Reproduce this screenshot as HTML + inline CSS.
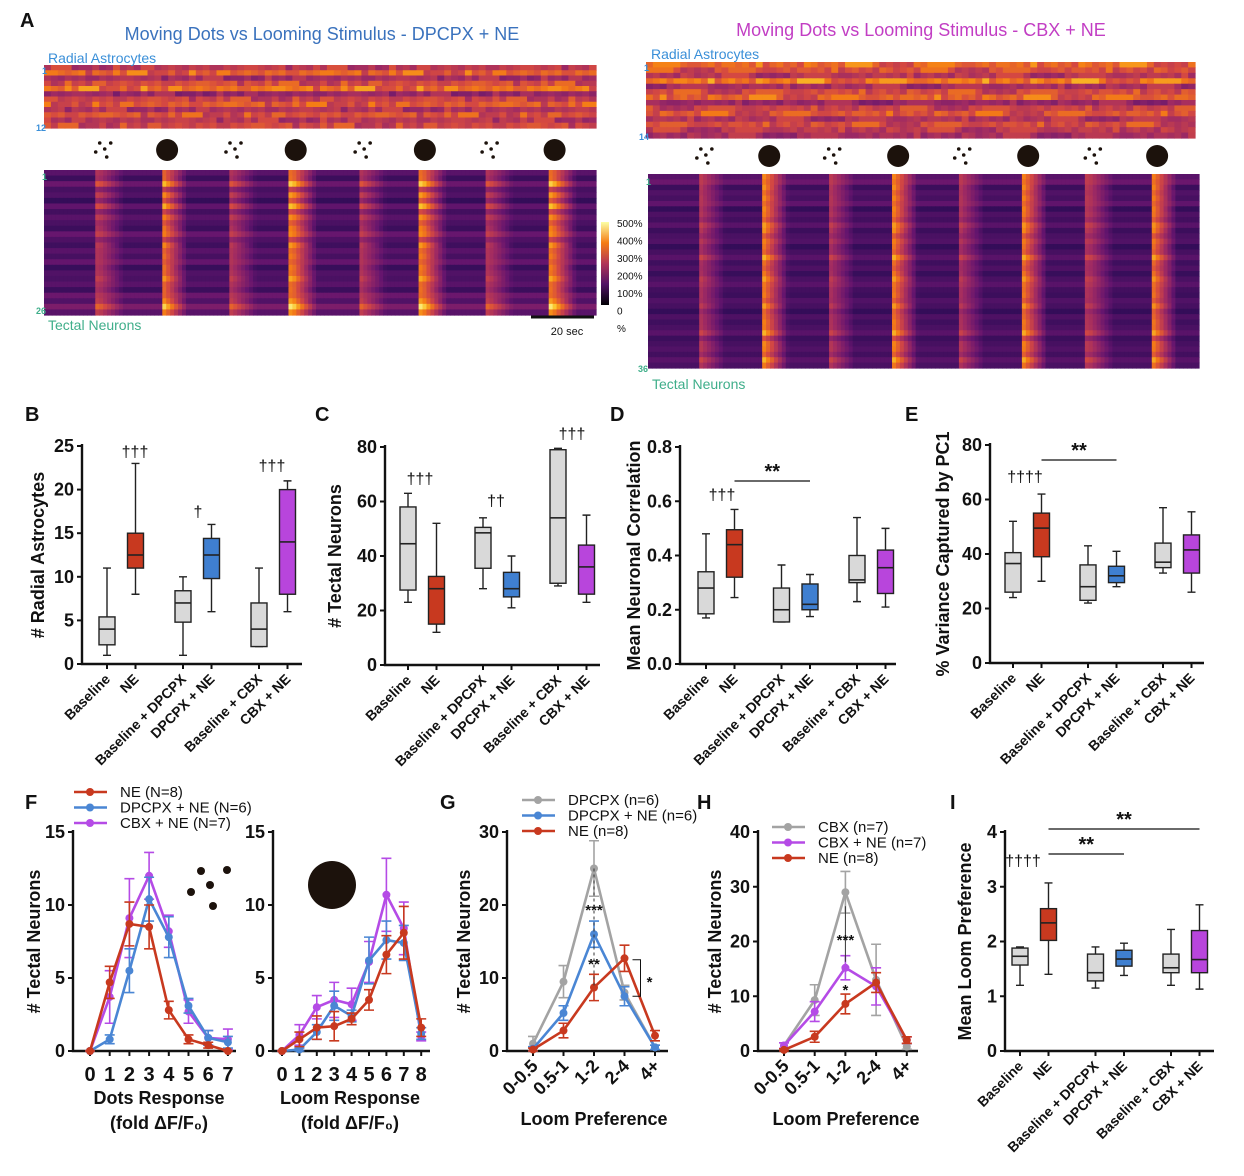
<!DOCTYPE html>
<html><head><meta charset="utf-8">
<style>
html,body{margin:0;padding:0;background:#fff;}
svg{display:block;font-family:"Liberation Sans",Arial,sans-serif;}
</style></head>
<body>
<svg id="fig" width="1244" height="1176" viewBox="0 0 1244 1176" xmlns="http://www.w3.org/2000/svg"></svg>
<script>
// ---------- DATA ----------
const boxCategories = ["Baseline","NE","Baseline + DPCPX","DPCPX + NE","Baseline + CBX","CBX + NE"];
const boxColors = ["#d9d9d9","#c8391f","#d9d9d9","#3f7fd0","#d9d9d9","#b845dc"];
const B_low=[1,8,1,6,2,6], B_q1=[2.2,11,4.8,9.8,2,8], B_med=[4,12.5,7,12.5,4,14], B_q3=[5.4,15,8.4,14.4,7,20], B_high=[11,23,10,16,11,21];
const B_ticks=[0,5,10,15,20,25];
const C_low=[23,12,28,21,29,23], C_q1=[27.5,15,35.5,25,30,26], C_med=[44.5,28,48.5,28,54,36], C_q3=[58,32.5,50.5,34,79,44], C_high=[63,52,54,40,79.5,55];
const C_ticks=[0,20,40,60,80];
const D_low=[0.17,0.245,0.155,0.175,0.23,0.21], D_q1=[0.185,0.32,0.155,0.2,0.3,0.26], D_med=[0.28,0.44,0.2,0.22,0.31,0.355], D_q3=[0.34,0.495,0.28,0.295,0.4,0.42], D_high=[0.48,0.57,0.365,0.33,0.54,0.5];
const D_ticks=[0,0.2,0.4,0.6,0.8];
const E_low=[24,30,22,28,33,26], E_q1=[26,39,23,29.5,35,33], E_med=[36.5,49.5,28,32,37,41.5], E_q3=[40.5,55,36,35.5,44,47], E_high=[52,62,43,41,57,55.5];
const E_ticks=[0,20,40,60,80];
const I_low=[1.2,1.4,1.15,1.38,1.2,1.13], I_q1=[1.57,2.02,1.28,1.55,1.43,1.43], I_med=[1.73,2.34,1.43,1.68,1.52,1.67], I_q3=[1.88,2.6,1.77,1.84,1.77,2.2], I_high=[1.9,3.07,1.9,1.97,2.22,2.67];
const I_ticks=[0,1,2,3,4];
const dotsBins=[0,1,2,3,4,5,6,7];
const dots_NE=[0,4.7,8.7,8.5,2.8,0.8,0.4,0], dots_NE_err=[0,1.1,1.5,1.5,0.6,0.3,0.2,0];
const dots_DP=[0,0.8,5.5,10.4,7.8,3.1,0.9,0.6], dots_DP_err=[0,0.3,1.5,1.5,1.4,0.5,0.5,0.4];
const dots_CBX=[0,3.7,9.1,12,8.2,2.7,0.9,0.8], dots_CBX_err=[0,1.8,2.7,1.6,1.1,0.8,0.5,0.7];
const loomBins=[0,1,2,3,4,5,6,7,8];
const loom_NE=[0,0.8,1.6,1.7,2.2,3.5,6.6,8.1,1.6], loom_NE_err=[0,0.5,0.8,1,0.4,0.7,1.3,1.8,0.6];
const loom_DP=[0,0.1,1.3,3.1,2.4,6.2,7.6,7.4,1.2], loom_DP_err=[0,0.1,0.5,1,0.4,1.6,1.3,1.2,0.4];
const loom_CBX=[0,1.1,3.0,3.5,3.2,6.1,10.7,8.4,1.0], loom_CBX_err=[0,0.7,0.8,1.2,1.1,1.4,2.5,1.8,0.3];
const F_ticks=[0,5,10,15];
const prefCats=["0-0.5","0.5-1","1-2","2-4","4+"];
const G_DPCPX=[1,9.5,25,8,0.5], G_DPCPX_err=[1,2.2,3.8,1,0.3];
const G_DPNE=[0.3,5.2,16,7.5,0.5], G_DPNE_err=[0.3,1,1.8,1.3,0.3];
const G_NE=[0.2,2.8,8.7,12.7,2.1], G_NE_err=[0.2,1,1.8,1.8,0.7];
const G_ticks=[0,10,20,30];
const H_CBX=[1,9.3,29,13,0.8], H_CBX_err=[0.5,2.8,3.8,6.5,0.5];
const H_CBXNE=[1,7.2,15.2,11.8,2], H_CBXNE_err=[0.5,1.8,2.2,3.4,0.6];
const H_NE=[0.2,2.6,8.6,12.5,2], H_NE_err=[0.2,1,1.8,1.8,0.6];
const H_ticks=[0,10,20,30,40];
const stimTypes=["dots","loom","dots","loom","dots","loom","dots","loom"];
const stimLeft=[0.1,0.215,0.34,0.45,0.575,0.685,0.805,0.92];
const stimRight=[0.095,0.21,0.33,0.445,0.565,0.68,0.8,0.915];
const astroRowsL=[0.62,0.78,0.55,0.7,0.82,0.5,0.66,0.75,0.58,0.72,0.6,0.68];
const astroColsL=[0.8,0.9,0.75,0.95,0.85,0.7,0.9,1,0.8,0.85,0.95,0.75,0.9,0.85,1,0.8,0.7,0.9,0.95,0.85,0.8,1,0.9,0.75,0.85,0.95,0.8,0.9,0.7,0.85,1,0.9,0.8,0.95,0.85,0.75,0.9,0.8,0.95,0.85];
const astroRowsR=[0.8,0.72,0.6,0.85,0.55,0.7,0.78,0.5,0.66,0.74,0.58,0.7,0.62,0.55];
const astroColsR=[0.85,0.95,0.8,1,0.9,0.75,0.85,0.95,0.9,0.8,1,0.85,0.7,0.9,0.95,0.8,0.85,1,0.9,0.75,0.8,0.95,0.85,0.9,1,0.8,0.7,0.85,0.95,0.9,0.8,0.85,1,0.9,0.75,0.85,0.8,0.9,0.7,0.75];
const neuRowsBaseL=[0.3,0.22,0.35,0.25,0.28,0.2,0.32,0.24,0.3,0.26,0.22,0.34,0.27,0.23,0.3,0.25,0.33,0.21,0.28,0.26,0.3,0.22,0.35,0.28,0.4,0.3];
const neuRowsGainL=[0.5,0.6,0.7,0.4,0.65,0.55,0.7,0.45,0.6,0.5,0.65,0.55,0.4,0.7,0.5,0.6,0.45,0.65,0.55,0.7,0.5,0.6,0.45,0.65,0.7,0.6];
const neuRowsBaseR=[0.3,0.35,0.22,0.28,0.25,0.32,0.2,0.27,0.24,0.3,0.22,0.26,0.28,0.2,0.25,0.3,0.23,0.27,0.21,0.26,0.3,0.24,0.22,0.28,0.25,0.2,0.27,0.23,0.26,0.3,0.22,0.25,0.28,0.24,0.3,0.26];
const neuRowsGainR=[0.6,0.5,0.7,0.55,0.65,0.5,0.7,0.6,0.55,0.65,0.7,0.5,0.6,0.65,0.55,0.7,0.6,0.5,0.65,0.7,0.55,0.6,0.65,0.5,0.7,0.6,0.55,0.65,0.6,0.7,0.5,0.65,0.6,0.55,0.7,0.6];

// ---------- HELPERS ----------
const NS="http://www.w3.org/2000/svg";
const svg=document.getElementById('fig');
function el(tag,attrs,parent){const e=document.createElementNS(NS,tag);for(const k in attrs)e.setAttribute(k,attrs[k]);(parent||svg).appendChild(e);return e;}
function tx(x,y,s,size,opts,parent){opts=opts||{};const t=el('text',{x:x,y:y,'font-size':size,'font-weight':opts.w||'bold',fill:opts.fill||'#111','text-anchor':opts.a||'middle'},parent);if(opts.tr)t.setAttribute('transform',opts.tr);t.textContent=s;return t;}
function inferno(t){t=Math.max(0,Math.min(1,t));const st=[[0,0,0,4],[0.15,40,11,84],[0.3,101,21,110],[0.45,159,42,99],[0.6,212,72,66],[0.75,245,125,21],[0.88,250,193,39],[1,252,255,164]];for(let i=1;i<st.length;i++){if(t<=st[i][0]){const a=st[i-1],b=st[i],f=(t-a[0])/(b[0]-a[0]);return 'rgb('+Math.round(a[1]+f*(b[1]-a[1]))+','+Math.round(a[2]+f*(b[2]-a[2]))+','+Math.round(a[3]+f*(b[3]-a[3]))+')';}}return '#fcffa4';}

// ---------- PANEL A ----------
function astroHeat(x,y,w,h,rows,cols,name){
  const g=el('g',{});
  
  
  const nc=cols.length*2;
  const rh=h/rows.length,cw=w/nc;
  rows.forEach((r,i)=>{for(let j=0;j<nc;j++){const c=cols[(j*7+i*3)%cols.length];
    const cell=el('rect',{x:x+j*cw,y:y+i*rh,width:cw+0.6,height:rh+0.6,fill:inferno(r*c)},g);
    
    
  }});
}
function neuronHeat(x,y,w,h,base,gain,stims,name){
  const g=el('g',{});
  
  
  const nc=140,rh=h/base.length,cw=w/nc;
  base.forEach((b,i)=>{for(let j=0;j<nc;j++){
    const f=(j+0.5)/nc;let v=b*0.9;
    stims.forEach((s,k)=>{const d=f-s;if(d>-0.004&&d<0.045){v+=gain[i]*(stimTypes[k]==='loom'?0.85:0.45)*(1-Math.max(0,d)/0.045);}});
    const cell=el('rect',{x:x+j*cw,y:y+i*rh,width:cw+0.6,height:rh+0.6,fill:inferno(v)},g);
    
    
  }});
}
function stimRow(x0,w,y,stims){
  stims.forEach((s,k)=>{const cx=x0+s*w;
    if(stimTypes[k]==='loom'){const c=el('circle',{cx:cx,cy:y,r:11,fill:'#1c120c'});
      
      }
    else{const g=el('g',{fill:'#1c120c'});
      
      
      [[-5,-7],[6,-7],[0,-1],[-9,2],[2,7]].forEach(p=>el('circle',{cx:cx+p[0],cy:y+p[1],r:1.8},g));}
  });
}
let t;
t=tx(20,27,'A',20,{a:'start'});
t=tx(322,40,'Moving Dots vs Looming Stimulus - DPCPX + NE',18,{w:'normal',fill:'#3a72bd'});
t=tx(921,36,'Moving Dots vs Looming Stimulus - CBX + NE',18,{w:'normal',fill:'#c23ec4'});
astroHeat(44,65,552,63,astroRowsL,astroColsL,'astrocyte-heatmap-left');
neuronHeat(44,170,552,145,neuRowsBaseL,neuRowsGainL,stimLeft,'neuron-heatmap-left');
astroHeat(646,62,549,76,astroRowsR,astroColsR,'astrocyte-heatmap-right');
neuronHeat(648,174,551,194,neuRowsBaseR,neuRowsGainR,stimRight,'neuron-heatmap-right');
stimRow(44,552,150,[0.11,0.223,0.346,0.456,0.58,0.69,0.81,0.925]);
stimRow(648,551,156,[0.105,0.22,0.337,0.454,0.573,0.69,0.81,0.924]);
t=tx(48,63,'Radial Astrocytes',14,{w:'normal',fill:'#3a8fd8',a:'start'});
t=tx(651,59,'Radial Astrocytes',14,{w:'normal',fill:'#3a8fd8',a:'start'});
t=tx(48,330,'Tectal Neurons',14,{w:'normal',fill:'#3fae8a',a:'start'});
t=tx(652,389,'Tectal Neurons',14,{w:'normal',fill:'#3fae8a',a:'start'});
[[42,74,'1','#3a8fd8'],[36,131,'12','#3a8fd8'],[42,180,'1','#3fae8a'],[36,314,'26','#3fae8a'],[644,71,'1','#3a8fd8'],[639,140,'14','#3a8fd8'],[646,185,'1','#3fae8a'],[638,372,'36','#3fae8a']].forEach(r=>{
  const n=tx(r[0],r[1],r[2],9,{a:'start',fill:r[3]});});
const defs=el('defs',{});
const lg=el('linearGradient',{id:'cb',x1:0,y1:1,x2:0,y2:0},defs);
[0,0.25,0.5,0.75,1].forEach(s=>el('stop',{offset:s,'stop-color':inferno(s)},lg));
t=el('rect',{x:601,y:222,width:8,height:83,fill:'url(#cb)'});
['500%','400%','300%','200%','100%','0','%'].forEach((s,i)=>{const l=tx(617,227+i*17.5,s,10,{w:'normal',a:'start'});});
t=el('line',{x1:531,y1:317,x2:594,y2:317,stroke:'#111','stroke-width':3});
t=tx(567,335,'20 sec',11,{w:'normal'});

// ---------- BOX PANELS ----------
function boxPanel(p){
  const g=el('g',{});
  
  
  const ys=v=>p.y0-(v/p.max)*(p.y0-p.yTop);
  const xs=i=>p.start+Math.floor(i/2)*p.step+(i%2)*28.5;
  const ax=el('path',{d:`M${p.ax},${p.yTop-2} V${p.y0} H${p.xEnd}`,fill:'none',stroke:'#111','stroke-width':2.4},g);
  
  
  p.ticks.forEach(v=>{el('line',{x1:p.ax-5,x2:p.ax,y1:ys(v),y2:ys(v),stroke:'#111','stroke-width':2},g);
    const l=tx(p.ax-8,ys(v)+6,p.fmt?p.fmt(v):String(v),18,{a:'end'},g);
    
    });
  boxCategories.forEach((c,i)=>{const x=xs(i);
    el('line',{x1:x,x2:x,y1:p.y0,y2:p.y0+5,stroke:'#111','stroke-width':2},g);
    const l=tx(x+4,p.y0+16,c,14,{a:'end',tr:`rotate(-45 ${x+4} ${p.y0+16})`},g);
    
    
    const bw=8;
    const wl=el('path',{d:`M${x},${ys(p.low[i])}V${ys(p.q1[i])}M${x},${ys(p.q3[i])}V${ys(p.high[i])}M${x-4},${ys(p.low[i])}h8M${x-4},${ys(p.high[i])}h8`,stroke:'#222','stroke-width':1.4,fill:'none'},g);
    
    
    const b=el('rect',{x:x-bw,y:ys(p.q3[i]),width:bw*2,height:ys(p.q1[i])-ys(p.q3[i]),fill:boxColors[i],stroke:'#222','stroke-width':1.4},g);
    
    
    const m=el('line',{x1:x-bw,x2:x+bw,y1:ys(p.med[i]),y2:ys(p.med[i]),stroke:'#222','stroke-width':1.6},g);
    
    
  });
  const yt=tx(0,0,p.title,18,{tr:`translate(${p.titleX},${(p.y0+p.yTop)/2}) rotate(-90)`},g);
  
  
  (p.ann||[]).forEach(a=>{const l=tx(a[0],a[1],a[2],16,{w:'normal'},g);
    
    });
  (p.brackets||[]).forEach(b=>{const l=el('line',{x1:xs(b[0]),x2:xs(b[1]),y1:b[2],y2:b[2],stroke:'#111','stroke-width':1.3},g);
    
    
    const s=tx((xs(b[0])+xs(b[1]))/2,b[2]-3,'**',20,{},g);
    
    });
}
[['B',25],['C',315],['D',610],['E',905]].forEach(l=>{const e=tx(l[1],421,l[0],20,{a:'start'});});
[['F',25],['G',440],['H',697],['I',950]].forEach(l=>{const e=tx(l[1],809,l[0],20,{a:'start'});});

boxPanel({name:'panel-b-radial-astrocytes',ax:82,xEnd:302,y0:664,yTop:446,max:25,ticks:B_ticks,start:107,step:76,low:B_low,q1:B_q1,med:B_med,q3:B_q3,high:B_high,title:'# Radial Astrocytes',titleX:44,
  ann:[[135,457,'†††'],[198,517,'†'],[272,471,'†††']]});
boxPanel({name:'panel-c-tectal-neurons',ax:385,xEnd:600,y0:665,yTop:447,max:80,ticks:C_ticks,start:408,step:75,low:C_low,q1:C_q1,med:C_med,q3:C_q3,high:C_high,title:'# Tectal Neurons',titleX:341,
  ann:[[420,484,'†††'],[496,506,'††'],[572,439,'†††']]});
boxPanel({name:'panel-d-neuronal-correlation',ax:680,xEnd:896,y0:664,yTop:447,max:0.8,ticks:D_ticks,fmt:v=>v.toFixed(1),start:706,step:75.5,low:D_low,q1:D_q1,med:D_med,q3:D_q3,high:D_high,title:'Mean Neuronal Correlation',titleX:640,
  ann:[[722,500,'†††']],brackets:[[1,3,481]]});
boxPanel({name:'panel-e-variance-pc1',ax:990,xEnd:1204,y0:663,yTop:445,max:80,ticks:E_ticks,start:1013,step:75,low:E_low,q1:E_q1,med:E_med,q3:E_q3,high:E_high,title:'% Variance Captured by PC1',titleX:949,
  ann:[[1025,482,'††††']],brackets:[[1,3,460]]});
boxPanel({name:'panel-i-loom-preference',ax:1005,xEnd:1214,y0:1051,yTop:832,max:4,ticks:I_ticks,start:1020,step:75.5,low:I_low,q1:I_q1,med:I_med,q3:I_q3,high:I_high,title:'Mean Loom Preference',titleX:971,
  ann:[[1023,866,'††††']],brackets:[[1,3,854],[1,5,829]]});

// ---------- LINE CHARTS ----------
function lineChart(p){
  const g=el('g',{});
  
  
  const ys=v=>p.y0-(v/p.max)*(p.y0-p.yTop);
  const xs=i=>p.x0+i*p.dx;
  const ax=el('path',{d:`M${p.ax},${p.yTop-2} V${p.y0} H${p.xEnd}`,fill:'none',stroke:'#111','stroke-width':2.4},g);
  
  
  p.ticks.forEach(v=>{el('line',{x1:p.ax-5,x2:p.ax,y1:ys(v),y2:ys(v),stroke:'#111','stroke-width':2},g);
    const l=tx(p.ax-8,ys(v)+6,String(v),18,{a:'end'},g);
    
    });
  p.cats.forEach((c,i)=>{el('line',{x1:xs(i),x2:xs(i),y1:p.y0,y2:p.y0+5,stroke:'#111','stroke-width':2},g);
    let l;
    if(p.rot) l=tx(xs(i)+6,p.y0+16,c,18,{a:'end',tr:`rotate(-45 ${xs(i)+6} ${p.y0+16})`},g);
    else l=tx(xs(i),p.y0+30,c,20,{},g);
    
    });
  p.series.forEach(s=>{
    const sg=el('g',{},g);
    
    
    s.v.forEach((v,i)=>{const e=s.e[i];
      const eb=el('path',{d:`M${xs(i)},${ys(v-e)}V${ys(v+e)}M${xs(i)-5},${ys(v-e)}h10M${xs(i)-5},${ys(v+e)}h10`,stroke:s.c,'stroke-width':1.6,fill:'none'},sg);
      
      });
    const ln=el('polyline',{points:s.v.map((v,i)=>xs(i)+','+ys(v)).join(' '),fill:'none',stroke:s.c,'stroke-width':2.6},sg);
    
    
    s.v.forEach((v,i)=>{const pt=el('circle',{cx:xs(i),cy:ys(v),r:4,fill:s.c},sg);
      
      });
  });
  if(p.title){const yt=tx(0,0,p.title,18,{tr:`translate(${p.titleX},${(p.y0+p.yTop)/2}) rotate(-90)`},g);
    
    }
  (p.xtitle||[]).forEach(xt=>{const l=tx(xt[0],xt[1],xt[2],18,{},g);
    
    });
  (p.legend||[]).forEach((L,i)=>{const ly=p.legY+i*p.legDy;
    const lg=el('g',{},g);
    
    
    el('line',{x1:p.legX,x2:p.legX+33,y1:ly,y2:ly,stroke:L[1],'stroke-width':2.6},lg);
    el('circle',{cx:p.legX+16,cy:ly,r:4,fill:L[1]},lg);
    tx(p.legX+46,ly+5,L[0],15,{w:'normal',a:'start'},lg);});
  return {xs,ys,g};
}
const cNE='#c8391f',cDP='#4a86d4',cCBX='#b54be6',cGray='#a3a3a3';
lineChart({name:'panel-f-dots-response',ax:73,xEnd:236,x0:90,dx:19.7,y0:1051,yTop:832,max:15,ticks:F_ticks,cats:dotsBins.map(String),
  series:[{label:'cbx-ne',v:dots_CBX,e:dots_CBX_err,c:cCBX},{label:'dpcpx-ne',v:dots_DP,e:dots_DP_err,c:cDP},{label:'ne',v:dots_NE,e:dots_NE_err,c:cNE}],
  title:'# Tectal Neurons',titleX:40,xtitle:[[159,1104,'Dots Response'],[159,1129,'(fold ΔF/F₀)']],
  legend:[['NE (N=8)',cNE],['DPCPX + NE (N=6)',cDP],['CBX + NE (N=7)',cCBX]],legX:74,legY:792,legDy:15.5});
lineChart({name:'panel-f-loom-response',ax:273,xEnd:430,x0:282,dx:17.4,y0:1051,yTop:832,max:15,ticks:F_ticks,cats:loomBins.map(String),
  series:[{label:'cbx-ne',v:loom_CBX,e:loom_CBX_err,c:cCBX},{label:'dpcpx-ne',v:loom_DP,e:loom_DP_err,c:cDP},{label:'ne',v:loom_NE,e:loom_NE_err,c:cNE}],
  xtitle:[[350,1104,'Loom Response'],[350,1129,'(fold ΔF/F₀)']]});
const fdots=el('g',{fill:'#1c120c'});


[[201,871],[227,870],[210,885],[191,892],[213,906]].forEach(p=>el('circle',{cx:p[0],cy:p[1],r:4},fdots));
t=el('circle',{cx:332,cy:885,r:24,fill:'#1c120c'});

const G=lineChart({name:'panel-g-dpcpx-loom-preference',ax:507,xEnd:668,x0:533,dx:30.5,y0:1051,yTop:832,max:30,ticks:G_ticks,cats:prefCats,rot:true,
  series:[{label:'dpcpx',v:G_DPCPX,e:G_DPCPX_err,c:cGray},{label:'dpcpx-ne',v:G_DPNE,e:G_DPNE_err,c:cDP},{label:'ne',v:G_NE,e:G_NE_err,c:cNE}],
  title:'# Tectal Neurons',titleX:470,xtitle:[[594,1125,'Loom Preference']],
  legend:[['DPCPX (n=6)',cGray],['DPCPX + NE (n=6)',cDP],['NE (n=8)',cNE]],legX:522,legY:800,legDy:15.5});
t=el('path',{d:`M${G.xs(2)},${G.ys(G_DPCPX[2])}V${G.ys(G_DPNE[2])}V${G.ys(G_NE[2])}`,stroke:'#333','stroke-width':1,'stroke-dasharray':'3,3',fill:'none'});
t=tx(G.xs(2),915,'***',15);
t=tx(G.xs(2),969,'**',15);
t=el('path',{d:`M${G.xs(3)+8},${G.ys(12.5)}h8V${G.ys(7.5)}h-8`,stroke:'#111','stroke-width':1,fill:'none'});
t=tx(G.xs(3)+25,987,'*',15);

const H=lineChart({name:'panel-h-cbx-loom-preference',ax:758,xEnd:918,x0:784,dx:30.7,y0:1051,yTop:832,max:40,ticks:H_ticks,cats:prefCats,rot:true,
  series:[{label:'cbx',v:H_CBX,e:H_CBX_err,c:cGray},{label:'cbx-ne',v:H_CBXNE,e:H_CBXNE_err,c:cCBX},{label:'ne',v:H_NE,e:H_NE_err,c:cNE}],
  title:'# Tectal Neurons',titleX:721,xtitle:[[846,1125,'Loom Preference']],
  legend:[['CBX (n=7)',cGray],['CBX + NE (n=7)',cCBX],['NE (n=8)',cNE]],legX:772,legY:827,legDy:15.5});
t=el('path',{d:`M${H.xs(2)},${H.ys(H_CBX[2])+14}V${H.ys(H_CBXNE[2])-6}`,stroke:'#333','stroke-width':1,fill:'none'});
t=tx(H.xs(2),945,'***',15);
t=tx(H.xs(2),995,'*',15);
</script>
</body></html>
